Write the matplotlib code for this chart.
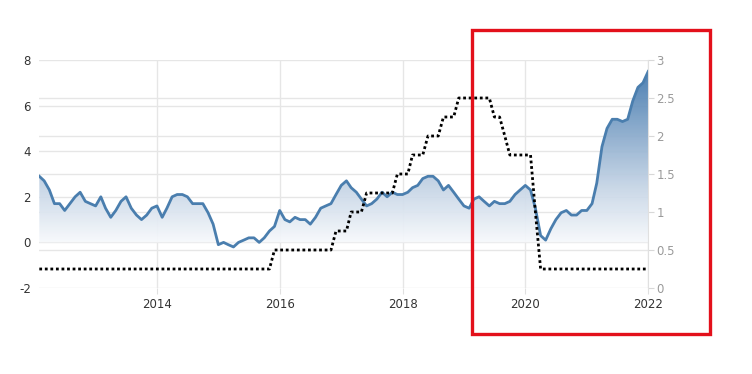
#!/usr/bin/env python3
import numpy as np
import pandas as pd
import matplotlib
matplotlib.use('Agg')
import matplotlib.pyplot as plt
import matplotlib.dates as mdates
from matplotlib.colors import LinearSegmentedColormap, Normalize
from matplotlib.patches import Rectangle, PathPatch

plt.rcParams['font.family'] = ['Liberation Sans Narrow', 'DejaVu Sans']

# monthly, Feb 2012 .. Jan 2022
dates = pd.date_range('2012-02-01', '2022-01-01', freq='MS')

# inflation rate (%), left axis
cpi = [2.9, 2.7, 2.3, 1.7, 1.7, 1.4, 1.7, 2.0, 2.2, 1.8, 1.7,
       1.6, 2.0, 1.5, 1.1, 1.4, 1.8, 2.0, 1.5, 1.2, 1.0, 1.2, 1.5,
       1.6, 1.1, 1.5, 2.0, 2.1, 2.1, 2.0, 1.7, 1.7, 1.7, 1.3, 0.8,
       -0.1, 0.0, -0.1, -0.2, 0.0, 0.1, 0.2, 0.2, 0.0, 0.2, 0.5, 0.7,
       1.4, 1.0, 0.9, 1.1, 1.0, 1.0, 0.8, 1.1, 1.5, 1.6, 1.7, 2.1,
       2.5, 2.7, 2.4, 2.2, 1.9, 1.6, 1.7, 1.9, 2.2, 2.0, 2.2, 2.1,
       2.1, 2.2, 2.4, 2.5, 2.8, 2.9, 2.9, 2.7, 2.3, 2.5, 2.2, 1.9,
       1.6, 1.5, 1.9, 2.0, 1.8, 1.6, 1.8, 1.7, 1.7, 1.8, 2.1, 2.3,
       2.5, 2.3, 1.5, 0.3, 0.1, 0.6, 1.0, 1.3, 1.4, 1.2, 1.2, 1.4,
       1.4, 1.7, 2.6, 4.2, 5.0, 5.4, 5.4, 5.3, 5.4, 6.2, 6.8, 7.0,
       7.5]

# interest rate (%), right axis
rate = [0.25, 0.25, 0.25, 0.25, 0.25, 0.25, 0.25, 0.25, 0.25, 0.25, 0.25,
        0.25, 0.25, 0.25, 0.25, 0.25, 0.25, 0.25, 0.25, 0.25, 0.25, 0.25, 0.25,
        0.25, 0.25, 0.25, 0.25, 0.25, 0.25, 0.25, 0.25, 0.25, 0.25, 0.25, 0.25,
        0.25, 0.25, 0.25, 0.25, 0.25, 0.25, 0.25, 0.25, 0.25, 0.25, 0.25, 0.5,
        0.5, 0.5, 0.5, 0.5, 0.5, 0.5, 0.5, 0.5, 0.5, 0.5, 0.5, 0.75,
        0.75, 0.75, 1.0, 1.0, 1.0, 1.25, 1.25, 1.25, 1.25, 1.25, 1.25, 1.5,
        1.5, 1.5, 1.75, 1.75, 1.75, 2.0, 2.0, 2.0, 2.25, 2.25, 2.25, 2.5,
        2.5, 2.5, 2.5, 2.5, 2.5, 2.5, 2.25, 2.25, 2.0, 1.75, 1.75, 1.75,
        1.75, 1.75, 1.0, 0.25, 0.25, 0.25, 0.25, 0.25, 0.25, 0.25, 0.25, 0.25,
        0.25, 0.25, 0.25, 0.25, 0.25, 0.25, 0.25, 0.25, 0.25, 0.25, 0.25, 0.25,
        0.25]

left_ticks = [-2, 0, 2, 4, 6, 8]
right_ticks = [0, 0.5, 1, 1.5, 2, 2.5, 3]
right_labels = ['0', '0.5', '1', '1.5', '2', '2.5', '3']
year_ticks = ['2014', '2016', '2018', '2020', '2022']

W, H = 752, 374
fig = plt.figure(figsize=(W / 100, H / 100), dpi=100)
ax = fig.add_axes([39.3 / W, 1 - 288 / H, (648.2 - 39.3) / W, (288 - 60) / H])

xn = mdates.date2num(dates)

# gradient fill under the inflation line
cmap = LinearSegmentedColormap.from_list(
    'fill', [(0.0, '#f7f9fc'), (0.3, '#c6d5e6'), (1.0, '#356fa8')])
poly = ax.fill_between(xn, cpi, 0, facecolor='none', edgecolor='none')
grad = np.linspace(-2, 8, 300).reshape(-1, 1)
im = ax.imshow(grad, extent=[xn[0], xn[-1], -2, 8], origin='lower',
               aspect='auto', cmap=cmap, norm=Normalize(0, 8), alpha=0.93, zorder=1)
clip = PathPatch(poly.get_paths()[0], transform=ax.transData,
                 facecolor='none', edgecolor='none')
ax.add_patch(clip)
im.set_clip_path(clip)

ax.plot(xn, cpi, color='#4a7eae', lw=2, zorder=3)

ax.set_xlim(xn[0], xn[-1])
ax.set_ylim(-2, 8)
ax.set_yticks(left_ticks)
ax.set_yticklabels([str(t) for t in left_ticks])
# grid lines of the right scale, expressed in left units
ax.set_yticks([r / 0.3 - 2 for r in right_ticks], minor=True)
ax.set_xticks(mdates.date2num(pd.to_datetime([y + '-01-01' for y in year_ticks])))
ax.set_xticklabels(year_ticks)
ax.set_axisbelow(True)
ax.grid(True, which='both', axis='y', color='#e6e6e6', lw=1)
ax.grid(True, which='major', axis='x', color='#e6e6e6', lw=1)
ax.tick_params(axis='y', which='both', length=0, pad=6, labelsize=8.5, labelcolor='#333333')
ax.tick_params(axis='x', length=4, color='#e0e0e0', pad=3, labelsize=8.5, labelcolor='#333333')
for s in ax.spines.values():
    s.set_visible(False)

ax2 = ax.twinx()
ax2.plot(xn, rate, color='black', lw=2, linestyle=(0, (1, 1)), zorder=4)
ax2.set_ylim(0, 3)
ax2.set_yticks(right_ticks)
ax2.set_yticklabels(right_labels)
ax2.tick_params(axis='y', length=4, color='#d8d8d8', pad=2, labelsize=8.5, labelcolor='#9a9a9a')
for k, s in ax2.spines.items():
    s.set_visible(k == 'right')
ax2.spines['right'].set_color('#e0e0e0')

# red highlight box
fig.add_artist(Rectangle((471.7 / W, 1 - 334 / H), (710 - 471.7) / W, (334 - 30) / H,
                         transform=fig.transFigure, fill=False,
                         edgecolor='#e3101b', lw=2.4))

fig.savefig('out.png', dpi=100)
